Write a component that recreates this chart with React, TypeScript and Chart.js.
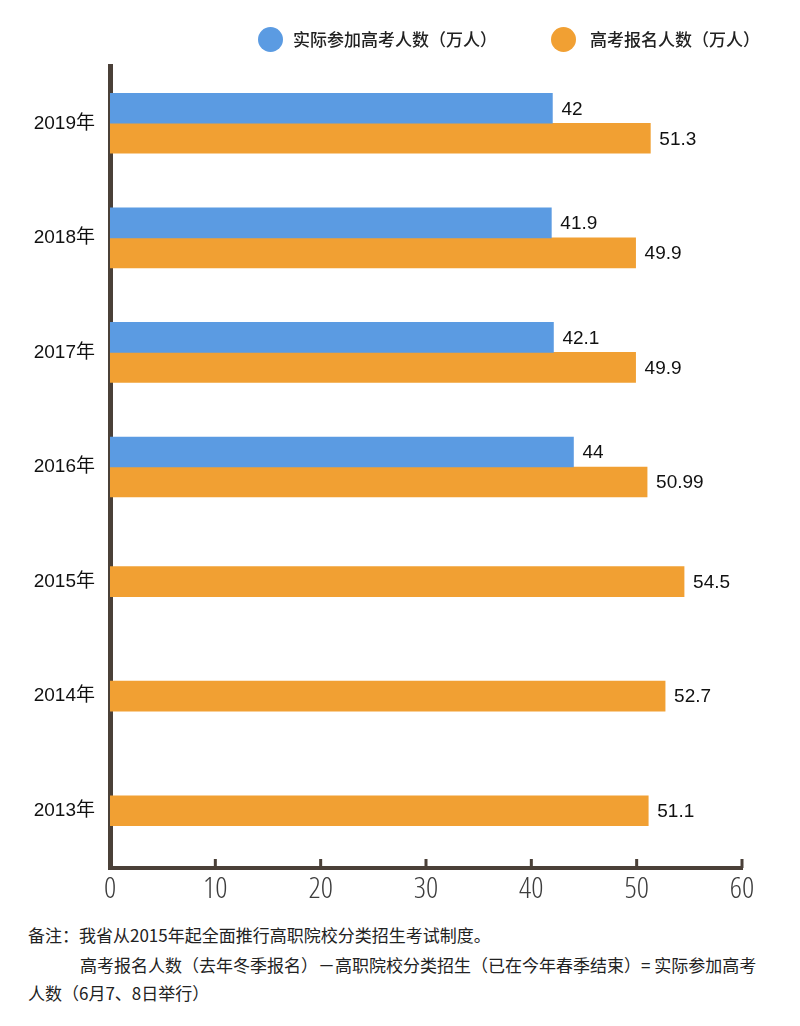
import React, { useEffect, useRef } from 'react';
import { Chart, registerables } from 'chart.js';

Chart.register(...registerables);

const categories = ['2019年', '2018年', '2017年', '2016年', '2015年', '2014年', '2013年'];
const actualExam: (number | null)[] = [42, 41.9, 42.1, 44, null, null, null];
const registered: number[] = [51.3, 49.9, 49.9, 50.99, 54.5, 52.7, 51.1];
const xTickValues = [0, 10, 20, 30, 40, 50, 60];
const seriesNames = ['实际参加高考人数（万人）', '高考报名人数（万人）'];
const noteLines = [
  '备注：我省从2015年起全面推行高职院校分类招生考试制度。',
  '高考报名人数（去年冬季报名）－高职院校分类招生（已在今年春季结束）= 实际参加高考',
  '人数（6月7、8日举行）',
];

const BLUE = '#5b9be2';
const ORANGE = '#f1a033';
const AXIS = '#4a4038';
const CJK = '"Liberation Sans", Arial, "Noto Sans CJK SC", sans-serif';

const valueLabelPlugin = {
  id: 'valueLabels',
  afterDatasetsDraw(chart: any) {
    const ctx = chart.ctx;
    ctx.save();
    ctx.font = '19px "Liberation Sans", Arial, sans-serif';
    ctx.fillStyle = '#111';
    ctx.textAlign = 'left';
    ctx.textBaseline = 'middle';
    chart.data.datasets.forEach((ds: any, i: number) => {
      const meta = chart.getDatasetMeta(i);
      meta.data.forEach((bar: any, j: number) => {
        const v = ds.data[j];
        if (v === null || v === undefined) return;
        ctx.fillText(String(v), bar.x + 9, bar.y + 1);
      });
    });
    ctx.restore();
  },
};

const innerTickPlugin = {
  id: 'innerTicks',
  afterDraw(chart: any) {
    const ctx = chart.ctx;
    const xs = chart.scales.x;
    const bottom = chart.chartArea.bottom;
    ctx.save();
    ctx.fillStyle = AXIS;
    xTickValues.forEach((v, i) => {
      if (i === 0) return;
      const px = xs.getPixelForValue(v);
      ctx.fillRect(px - 1.5, bottom - 9, 3, 9);
    });
    ctx.restore();
  },
};

function ChartCanvas() {
  const ref = useRef<HTMLCanvasElement | null>(null);
  useEffect(() => {
    if (!ref.current) return;
    const chart = new Chart(ref.current, {
      type: 'bar',
      data: {
        labels: categories,
        datasets: [
          {
            label: seriesNames[0],
            data: actualExam,
            backgroundColor: BLUE,
            barThickness: 30,
            skipNull: true,
          } as any,
          {
            label: seriesNames[1],
            data: registered,
            backgroundColor: ORANGE,
            barThickness: 30,
            skipNull: true,
          } as any,
        ],
      },
      options: {
        indexAxis: 'y',
        animation: false,
        responsive: false,
        devicePixelRatio: 1,
        layout: { padding: { top: 66, right: 58, left: 0, bottom: 0 } },
        plugins: {
          legend: { display: false },
          tooltip: { enabled: false },
        },
        scales: {
          y: {
            type: 'category',
            z: 1,
            grid: { display: false, drawTicks: false },
            border: { display: true, width: 5, color: AXIS },
            ticks: {
              color: '#111',
              font: { family: CJK, size: 19 },
              padding: 15,
            },
            afterFit(scale: any) {
              scale.width = 110;
            },
          },
          x: {
            type: 'linear',
            min: 0,
            max: 60,
            grid: { display: false, drawTicks: false },
            border: { display: true, width: 4, color: AXIS },
            ticks: {
              stepSize: 10,
              color: '#3d3d3d',
              font: { family: '"Open Sans", "DejaVu Sans", sans-serif', size: 30, weight: '300 condensed' },
              padding: 3,
            },
            afterFit(scale: any) {
              scale.height = 42;
            },
          },
        },
      } as any,
      plugins: [valueLabelPlugin, innerTickPlugin],
    });
    return () => chart.destroy();
  }, []);
  return (
    <canvas
      ref={ref}
      width={800}
      height={910}
      style={{ position: 'absolute', left: 0, top: 0, width: 800, height: 910 }}
    />
  );
}

export default function App() {
  const legendText: React.CSSProperties = {
    position: 'absolute',
    top: 27,
    fontFamily: '"Noto Sans CJK SC", sans-serif',
    fontSize: 17,
    fontWeight: 500,
    color: '#222',
    lineHeight: '24px',
    whiteSpace: 'nowrap',
  };
  const dot = (left: number, color: string): React.CSSProperties => ({
    position: 'absolute',
    left,
    top: 27,
    width: 25,
    height: 25,
    borderRadius: '50%',
    background: color,
  });
  const note: React.CSSProperties = {
    position: 'absolute',
    fontFamily: '"Noto Sans CJK SC", sans-serif',
    fontSize: 17,
    color: '#222',
    lineHeight: '24px',
    whiteSpace: 'nowrap',
  };
  return (
    <div
      style={{
        position: 'absolute',
        left: 0,
        top: 0,
        width: 800,
        height: 1026,
        background: '#fff',
        overflow: 'hidden',
      }}
    >
      <ChartCanvas />
      <div style={dot(258, BLUE)} />
      <div style={{ ...legendText, left: 293 }}>{seriesNames[0]}</div>
      <div style={dot(551, ORANGE)} />
      <div style={{ ...legendText, left: 590 }}>{seriesNames[1]}</div>
      <div style={{ ...note, left: 28, top: 923 }}>{noteLines[0]}</div>
      <div style={{ ...note, left: 80, top: 953 }}>{noteLines[1]}</div>
      <div style={{ ...note, left: 28, top: 981 }}>{noteLines[2]}</div>
    </div>
  );
}
